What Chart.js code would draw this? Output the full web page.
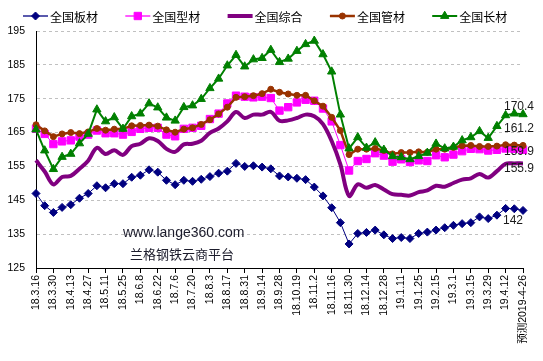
<!DOCTYPE html>
<html><head><meta charset="utf-8">
<script src="https://cdn.jsdelivr.net/npm/chart.js@4/dist/chart.umd.min.js"></script>
<style>html,body{margin:0;padding:0;background:#fff}canvas{display:block}</style>
</head><body>
<canvas id="c" width="543" height="361"></canvas>
<script>
const categories = ["18.3.16","18.3.23","18.3.30","18.4.6","18.4.13","18.4.20","18.4.27","18.5.4","18.5.11","18.5.18","18.5.25","18.6.1","18.6.8","18.6.15","18.6.22","18.6.29","18.7.6","18.7.13","18.7.20","18.7.27","18.8.3","18.8.10","18.8.17","18.8.24","18.8.31","18.9.7","18.9.14","18.9.21","18.9.28","18.10.12","18.10.19","18.10.26","18.11.2","18.11.9","18.11.16","18.11.23","18.11.30","18.12.7","18.12.14","18.12.21","18.12.28","19.1.4","19.1.11","19.1.18","19.1.25","19.2.1","19.2.15","19.2.22","19.3.1","19.3.8","19.3.15","19.3.22","19.3.29","19.4.5","19.4.12","19.4.19","预测2019-4-26"];
const seriesNames = ["全国板材","全国型材","全国综合","全国管材","全国长材"];
const plate = [147.0,143.4,141.4,142.9,143.7,145.6,147.0,149.3,148.7,149.9,149.9,151.8,152.4,154.0,
  153.3,150.9,149.6,150.9,150.6,151.2,152.0,153.0,153.6,155.9,155.0,155.2,154.8,154.3,
  152.2,151.9,151.5,151.1,148.9,146.3,142.8,138.4,132.1,135.2,135.5,136.2,134.8,133.7,
  134.0,133.7,135.2,135.6,136.2,136.9,137.6,138.1,138.4,140.1,139.6,140.6,142.6,142.5,142];
const section = [166.1,164.6,161.6,162.4,162.7,163.8,164.4,165.6,164.8,164.8,164.4,165.2,166.1,166.4,
  166.4,164.4,163.9,166.1,166.4,167.0,169.0,170.6,173.6,175.9,175.6,175.4,175.6,175.2,
  171.5,172.5,173.9,174.7,174.4,172.1,168.3,161.3,153.8,156.6,157.2,158.9,158.2,156.4,
  157.1,156.3,156.8,156.6,158.3,157.7,158.5,159.5,160.2,160.1,159.7,159.9,160.3,160.2,159.9];
const composite = [156.8,153.5,149.7,151.9,152.2,154.3,156.7,160.5,158.7,159.8,158.4,161.0,161.7,163.3,
  162.5,160.2,159.3,161.5,161.7,162.6,164.9,166.2,168.3,171.1,169.3,170.3,170.3,171.1,
  168.5,168.6,169.3,170.3,169.8,167.5,162.5,155.6,146.3,149.7,148.7,149.5,148.2,146.8,
  146.6,146.4,147.4,147.9,149.3,149.0,150.1,151.1,151.5,152.8,151.7,153.6,155.8,155.9,155.9];
const pipe = [167.3,165.5,163.8,164.6,165.0,164.7,165.2,166.2,165.7,166.0,166.1,167.0,167.1,167.2,
  166.9,165.8,165.1,166.0,166.4,167.4,168.8,170.5,172.5,175.4,175.6,175.9,176.5,177.8,
  176.9,176.4,176.0,176.0,174.4,172.8,169.5,165.6,158.5,160.1,160.1,160.3,159.7,158.7,
  159.1,159.1,159.3,159.2,160.1,160.1,160.6,161.1,161.2,160.9,160.9,161.0,161.4,161.3,161.2];
const longProd = [165.9,159.7,154.2,157.8,158.7,161.8,164.6,171.8,168.3,169.5,166.1,169.8,170.6,173.6,
  172.4,169.4,168.5,172.5,173.0,174.9,178.1,180.9,184.8,187.9,184.5,186.6,187.0,189.4,
  185.8,186.8,189.1,191.1,192.1,188.1,183.0,170.3,160.3,163.6,160.5,162.1,159.9,158.0,
  157.7,157.1,158.0,159.0,161.7,160.3,160.8,162.7,163.6,165.4,163.4,166.9,170.1,170.6,170.4];
const yTicks = [125,135,145,155,165,175,185,195];
const watermark = ["www.lange360.com","兰格钢铁云商平台"];

const LATIN = "'Liberation Sans', Arial, 'Noto Sans CJK SC', sans-serif";
const CJK = "'Noto Sans CJK SC', 'Liberation Sans', sans-serif";

const styles = [
  {color:'#000080', width:1,   point:'rectRot',  r:4,   tension:0},
  {color:'#FF00FF', width:1,   point:'rect',     r:5.2, tension:0},
  {color:'#800080', width:4,   point:false,      r:0,   tension:0.35},
  {color:'#993300', width:2.5, point:'circle',   r:3,   tension:0},
  {color:'#008000', width:2,   point:'triangle', r:4.8, tension:0}
];
const values = [plate, section, composite, pipe, longProd];
// label offsets (x from last point, y from last point)
const endOffsets = [[-20,10],[-19,1.7],[-19,5.8],[-19,-17],[-19,-7.7]];
const drawOrder = [4,3,2,1,0];

const datasets = values.map((v,i)=>({
  label: seriesNames[i],
  data: v,
  borderColor: styles[i].color,
  backgroundColor: styles[i].color,
  borderWidth: styles[i].width,
  pointStyle: styles[i].point || 'circle',
  pointRadius: styles[i].point ? styles[i].r : 0,
  pointBorderWidth: 1,
  pointBackgroundColor: styles[i].color,
  pointBorderColor: styles[i].color,
  tension: styles[i].tension,
  fill: false,
  order: drawOrder[i]
}));

const legendPlugin = {
  id:'customLegend',
  afterDraw(chart){
    const ctx = chart.ctx;
    ctx.save();
    chart.data.datasets.forEach((ds,i)=>{
      const x0 = 23 + i*102.3, y = 16;
      ctx.strokeStyle = ds.borderColor;
      ctx.lineWidth = Math.max(ds.borderWidth, 1.3);
      ctx.beginPath(); ctx.moveTo(x0,y); ctx.lineTo(x0+25,y); ctx.stroke();
      if (styles[i].point){
        ctx.fillStyle = ds.borderColor; ctx.strokeStyle = ds.borderColor; ctx.lineWidth = 1;
        Chart.helpers.drawPoint(ctx,{pointStyle:styles[i].point, radius:styles[i].r, rotation:0, borderWidth:1}, x0+12.5, y);
      }
      ctx.fillStyle = '#000';
      ctx.font = '12px ' + CJK;
      ctx.textBaseline = 'middle'; ctx.textAlign = 'left';
      ctx.fillText(ds.label, x0+27, y+1);
    });
    ctx.restore();
  }
};

const endLabelPlugin = {
  id:'endLabels',
  afterDatasetsDraw(chart){
    const ctx = chart.ctx;
    const xs = chart.scales.x, ys = chart.scales.y;
    ctx.save();
    ctx.font = '12px ' + LATIN;
    ctx.fillStyle = '#1a1a1a';
    ctx.textBaseline = 'middle'; ctx.textAlign = 'left';
    values.forEach((v,i)=>{
      const last = v.length-1;
      const px = xs.getPixelForValue(last), py = ys.getPixelForValue(v[last]);
      ctx.fillText(String(v[last]), px + endOffsets[i][0], py + endOffsets[i][1]);
    });
    // watermark
    const cx = (xs.left + xs.right)/2;
    ctx.fillStyle = '#1c1c2c';
    ctx.textAlign = 'left';
    ctx.font = '14px ' + LATIN;
    ctx.fillText(watermark[0], 123, 233);
    ctx.font = '13px ' + CJK;
    ctx.fillText(watermark[1], 130, 254);
    ctx.restore();
  }
};

new Chart(document.getElementById('c'), {
  type:'line',
  data:{ labels: categories, datasets },
  options:{
    responsive:false, animation:false, devicePixelRatio:1,
    layout:{ padding:{ top:31, right:20, left:0, bottom:0 } },
    plugins:{ legend:{display:false}, tooltip:{enabled:false} },
    scales:{
      x:{
        type:'category', offset:false,
        afterFit(s){ s.height = 93; },
        grid:{ drawOnChartArea:false, drawTicks:true, tickLength:5, color:'#000', lineWidth:1 },
        border:{ display:true, color:'#000', width:1 },
        ticks:{
          autoSkip:false, minRotation:90, maxRotation:90, padding:2,
          color:'#000', font:{ size:10.5, family:LATIN },
          callback(v,i){ return i%2===0 ? categories[i] : null; }
        }
      },
      y:{
        min:125, max:195,
        afterFit(s){ s.width = 36; },
        afterBuildTicks(s){ s.ticks = yTicks.map(v=>({value:v})); },
        grid:{ drawTicks:false, color:(c)=> c.tick && c.tick.value===125 ? 'rgba(0,0,0,0)' : '#c0c0c0', lineWidth:1 },
        border:{ display:true, color:'#000', width:1, dash:[3,3] },
        ticks:{ padding:11, color:'#000', font:{ size:10.5, family:LATIN } }
      }
    }
  },
  plugins:[legendPlugin, endLabelPlugin]
});
</script>
</body></html>
